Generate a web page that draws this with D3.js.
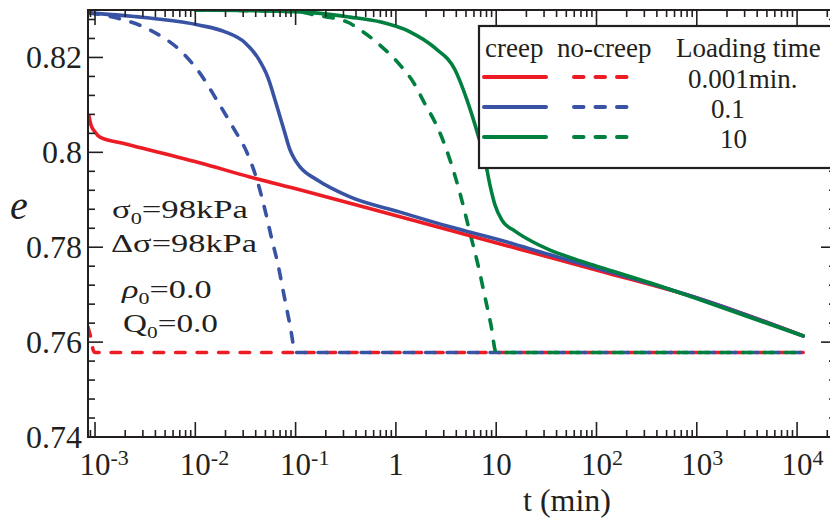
<!DOCTYPE html>
<html><head><meta charset="utf-8">
<script src="https://cdn.jsdelivr.net/npm/d3@7"></script>
<style>
body{margin:0;background:#fff}
svg{display:block}
text{font-family:"Liberation Serif","Times New Roman",serif;fill:#231f20}
</style>
</head><body><svg id="c" width="830" height="519"></svg>
<script>
// ---------- data ----------
const xMajorTicks = [1e-3, 1e-2, 1e-1, 1, 10, 1e2, 1e3, 1e4];
const xTickBase = ["10", "10", "10", "1", "10", "10", "10", "10"];
const xTickExp = ["-3", "-2", "-1", "", "", "2", "3", "4"];
const yMajorTicks = [0.74, 0.76, 0.78, 0.80, 0.82];
const yTickLabels = ["0.74", "0.76", "0.78", "0.8", "0.82"];

const seriesNames = ["0.001min.", "0.1", "10"];
const seriesColors = ["#ed1c24", "#3953a4", "#00803f"];

// creep (solid) curves: [t (min), e]
const creep001 = [[0.00087,0.8077],[0.00091,0.8058],[0.001,0.8043],[0.00112,0.8032],[0.0018,0.8020],[0.0035,0.8005],[0.011,0.7978],[0.035,0.7948],[0.11,0.7921],[1.1,0.7864],[11,0.7807],[108,0.7750],[1080,0.7691],[11500,0.7613]];
const creep01 = [[0.00087,0.8294],[0.0035,0.8283],[0.011,0.8268],[0.0198,0.8254],[0.0313,0.8231],[0.0421,0.8199],[0.0531,0.8157],[0.0637,0.8104],[0.0766,0.8047],[0.0879,0.8005],[0.0986,0.7984],[0.111,0.7969],[0.163,0.7942],[0.348,0.7906],[1.1,0.7874],[3.46,0.7843],[10.9,0.7815],[34.4,0.7784],[108,0.7754],[1080,0.7691],[11500,0.7613]];
const creep10 = [[0.01,0.8300],[0.111,0.8296],[0.348,0.8285],[0.693,0.8275],[1.38,0.8254],[2.45,0.8220],[3.88,0.8174],[5.12,0.8110],[6.58,0.8037],[7.73,0.7984],[8.67,0.7931],[9.73,0.7889],[11.4,0.7857],[15.4,0.7834],[23.3,0.7811],[34.4,0.7794],[61,0.7775],[108,0.7758],[341,0.7725],[1080,0.7689],[11500,0.7613]];

// no-creep (dashed) curves
const nocreep001 = [[0.00085,0.7632],[0.00091,0.7608],[0.00096,0.7583],[0.001,0.7578],[11500,0.7578]];
const nocreep01 = [[0.00087,0.8294],[0.00166,0.8283],[0.00353,0.8258],[0.00753,0.8209],[0.0111,0.8167],[0.0164,0.8110],[0.0237,0.8053],[0.0328,0.7999],[0.0412,0.7942],[0.0496,0.7878],[0.0582,0.7815],[0.0668,0.7763],[0.0766,0.7699],[0.0879,0.7636],[0.1,0.7578],[11500,0.7578]];
const nocreep10 = [[0.01,0.8300],[0.111,0.8296],[0.149,0.8290],[0.325,0.8275],[0.47,0.8254],[0.693,0.8226],[1.1,0.8184],[1.55,0.8142],[1.86,0.8110],[2.75,0.8041],[3.46,0.7984],[4.35,0.7914],[5.48,0.7830],[6.58,0.7763],[7.73,0.7695],[8.87,0.7636],[10,0.7578],[11500,0.7578]];

const creepSeries = [creep001, creep01, creep10];
const nocreepSeries = [nocreep001, nocreep01, nocreep10];

// ---------- layout ----------
const L = 88, R = 836, T = 10, B = 437;
const svg = d3.select("#c");
const x = d3.scaleLog().domain([Math.pow(10, -3.07), Math.pow(10, 4.388)]).range([L, R]);
const y = d3.scaleLinear().domain([0.74, 0.83]).range([B, T]);

svg.append("defs").append("clipPath").attr("id", "clip")
  .append("rect").attr("x", L).attr("y", T).attr("width", R - L).attr("height", B - T);

const line = d3.line().x(d => x(d[0])).y(d => y(d[1])).curve(d3.curveMonotoneX);
const g = svg.append("g").attr("clip-path", "url(#clip)");

nocreepSeries.forEach((s, i) => {
  g.append("path").attr("d", line(s)).attr("fill", "none")
    .attr("stroke", seriesColors[i]).attr("stroke-width", 3.6)
    .attr("stroke-dasharray", "9.5,12").attr("stroke-linecap", "round").attr("stroke-linejoin", "round");
});
creepSeries.forEach((s, i) => {
  g.append("path").attr("d", line(s)).attr("fill", "none")
    .attr("stroke", seriesColors[i]).attr("stroke-width", 3.6)
    .attr("stroke-linecap", "round").attr("stroke-linejoin", "round");
});

// ---------- axes / ticks ----------
const axisG = svg.append("g").attr("stroke", "#231f20").attr("stroke-width", 1.6);
const MAJ = 15, MIN = 7;
const xMinor = [];
for (let d = -4; d <= 4; d++) for (let k = 2; k <= 9; k++) {
  const v = k * Math.pow(10, d);
  if (v > x.domain()[0] && v < x.domain()[1]) xMinor.push(v);
}
const xt = xMajorTicks.map(v => ({v, len: MAJ})).concat(xMinor.map(v => ({v, len: MIN})));
xt.forEach(t => {
  const px = x(t.v);
  axisG.append("line").attr("x1", px).attr("x2", px).attr("y1", B).attr("y2", B - t.len);
  axisG.append("line").attr("x1", px).attr("x2", px).attr("y1", T).attr("y2", T + t.len);
});
const yt = d3.range(0, 23).map(i => ({v: 0.74 + i * 0.004, len: i % 5 === 0 ? MAJ : MIN})).filter(t => t.v <= 0.8301);
yt.forEach(t => {
  const py = y(t.v);
  axisG.append("line").attr("x1", L).attr("x2", L + t.len).attr("y1", py).attr("y2", py);
  axisG.append("line").attr("x1", R).attr("x2", R - t.len).attr("y1", py).attr("y2", py);
});
svg.append("rect").attr("x", L).attr("y", T).attr("width", R - L).attr("height", B - T)
  .attr("fill", "none").attr("stroke", "#231f20").attr("stroke-width", 2);

// tick labels
xMajorTicks.forEach((v, i) => {
  const px = x(v);
  const t = svg.append("text").attr("x", px).attr("y", 475).attr("text-anchor", "middle")
    .attr("font-size", 31).text(xTickBase[i]);
  if (xTickExp[i]) {
    const w = t.node().getComputedTextLength();
    svg.append("text").attr("x", px + w / 2).attr("y", 465).attr("font-size", 22).text(xTickExp[i]);
  }
});
yMajorTicks.forEach((v, i) => {
  svg.append("text").attr("x", 82).attr("y", y(v) + 11).attr("text-anchor", "end")
    .attr("font-size", 32).text(yTickLabels[i]);
});

// axis titles
svg.append("text").attr("x", 567).attr("y", 511).attr("text-anchor", "middle").attr("font-size", 32).text("t (min)");
svg.append("text").attr("x", 19).attr("y", 219).attr("text-anchor", "middle").attr("font-size", 40)
  .attr("font-style", "italic").text("e");

// annotations
function annot(parts, left, base, width) {
  const t = svg.append("text").attr("font-size", 25);
  parts.forEach(p => {
    const ts = t.append("tspan").text(p.s);
    if (p.sub) ts.attr("font-size", 16).attr("dy", 6);
    if (p.up) ts.attr("dy", -6);
    if (p.it) ts.attr("font-style", "italic");
  });
  const w = t.node().getBBox().width;
  t.attr("transform", `translate(${left},${base}) scale(${width / w},1)`);
}
annot([{s: "σ"}, {s: "0", sub: true}, {s: "=98kPa", up: true}], 112, 218, 136);
annot([{s: "Δσ=98kPa"}], 111, 252, 146);
annot([{s: "ρ", it: true}, {s: "0", sub: true}, {s: "=0.0", up: true}], 122, 298, 91);
annot([{s: "Q"}, {s: "0", sub: true}, {s: "=0.0", up: true}], 123, 332, 95);

// ---------- legend ----------
const lg = svg.append("g");
lg.append("rect").attr("x", 479).attr("y", 26).attr("width", 370).attr("height", 142)
  .attr("fill", "#fff").attr("stroke", "#231f20").attr("stroke-width", 2.2);
lg.append("text").attr("x", 485).attr("y", 57).attr("font-size", 27).text("creep");
lg.append("text").attr("x", 557).attr("y", 57).attr("font-size", 27).text("no-creep");
lg.append("text").attr("x", 676).attr("y", 57).attr("font-size", 27).text("Loading time");
const legX = [688, 711, 720];
seriesNames.forEach((n, i) => {
  const ly = 77 + i * 30;
  lg.append("line").attr("x1", 484).attr("x2", 546).attr("y1", ly).attr("y2", ly)
    .attr("stroke", seriesColors[i]).attr("stroke-width", 4).attr("stroke-linecap", "round");
  lg.append("line").attr("x1", 574).attr("x2", 628).attr("y1", ly).attr("y2", ly)
    .attr("stroke", seriesColors[i]).attr("stroke-width", 4).attr("stroke-linecap", "round")
    .attr("stroke-dasharray", "9.5,12");
  lg.append("text").attr("x", legX[i]).attr("y", ly + 11).attr("font-size", 27).text(n);
});
</script>
</body></html>
